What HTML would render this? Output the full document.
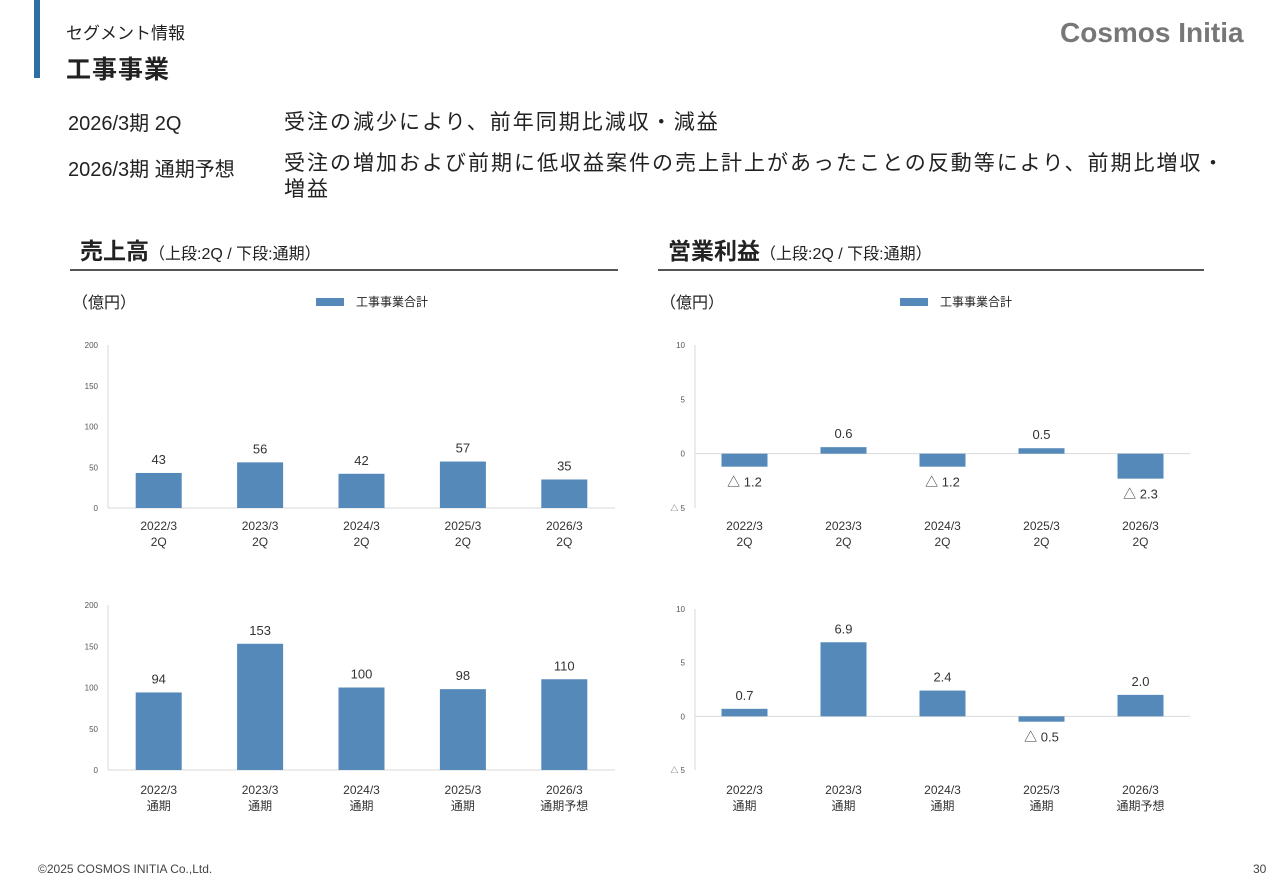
<!DOCTYPE html>
<html><head><meta charset="utf-8">
<style>
body{margin:0;width:1280px;height:886px;background:#fff;font-family:"Liberation Sans","Noto Sans CJK JP",sans-serif;color:#222;position:relative;overflow:hidden}
.abs{position:absolute;white-space:nowrap}
</style></head><body>
<div class="abs" style="left:34px;top:0;width:6px;height:78px;background:#2f6ea5"></div>
<div class="abs" style="left:66px;top:19px;font-size:17px">セグメント情報</div>
<div class="abs" style="left:66px;top:50px;font-size:25px;font-weight:bold;letter-spacing:1px">工事事業</div>
<div class="abs" style="left:1060px;top:17px;font-size:28px;font-weight:bold;color:#777">Cosmos Initia</div>
<div class="abs" style="left:68px;top:107px;font-size:20px">2026/3期 2Q</div>
<div class="abs" style="left:284px;top:106px;font-size:21px;letter-spacing:2px">受注の減少により、前年同期比減収・減益</div>
<div class="abs" style="left:68px;top:153px;font-size:20px">2026/3期 通期予想</div>
<div class="abs" style="left:284px;top:151px;font-size:21px;letter-spacing:2px;line-height:26px;white-space:normal;width:950px">受注の増加および前期に低収益案件の売上計上があったことの反動等により、前期比増収・増益</div>
<div class="abs" style="left:80px;top:232px;font-size:23px;font-weight:bold">売上高<span style="font-size:16px;font-weight:normal">（上段:2Q / 下段:通期）</span></div>
<div class="abs" style="left:70px;top:269px;width:548px;height:2px;background:#555"></div>
<div class="abs" style="left:668px;top:232px;font-size:23px;font-weight:bold">営業利益<span style="font-size:16px;font-weight:normal">（上段:2Q / 下段:通期）</span></div>
<div class="abs" style="left:658px;top:269px;width:546px;height:2px;background:#555"></div>
<div class="abs" style="left:72px;top:289px;font-size:16px">（億円）</div>
<div class="abs" style="left:660px;top:289px;font-size:16px">（億円）</div>
<div class="abs" style="left:316px;top:293px;font-size:12px"><span style="display:inline-block;width:28px;height:8px;background:#5589b9;margin-right:12px"></span>工事事業合計</div>
<div class="abs" style="left:900px;top:293px;font-size:12px"><span style="display:inline-block;width:28px;height:8px;background:#5589b9;margin-right:12px"></span>工事事業合計</div>
<div class="abs" style="left:38px;top:862px;font-size:12px;color:#444">©2025 COSMOS INITIA Co.,Ltd.</div>
<div class="abs" style="left:1253px;top:862px;font-size:12px;color:#444">30</div>
<svg id="charts" width="1280" height="886" style="position:absolute;left:0;top:0"></svg>
<script>
const cats2Q = ["2022/3|2Q","2023/3|2Q","2024/3|2Q","2025/3|2Q","2026/3|2Q"];
const catsFY = ["2022/3|通期","2023/3|通期","2024/3|通期","2025/3|通期","2026/3|通期予想"];
const sales2Q = [43,56,42,57,35];
const salesFY = [94,153,100,98,110];
const profit2Q = [-1.2,0.6,-1.2,0.5,-2.3];
const profitFY = [0.7,6.9,2.4,-0.5,2.0];
const salesTicks = [0,50,100,150,200];
const profitTicks = [-5,0,5,10];
const NS="http://www.w3.org/2000/svg";
const svg=document.getElementById('charts');
function mk(t,a,txt){const e=document.createElementNS(NS,t);for(const k in a)e.setAttribute(k,a[k]);if(txt!==undefined)e.textContent=txt;svg.appendChild(e);return e;}
function fmt(v,dec){const s=Math.abs(v).toFixed(dec);return v<0?"△ "+s:s;}
function chart(name,x0,x1,yTop,yBot,min,max,ticks,cats,vals,dec,catY){
  const y=v=>yBot-(v-min)/(max-min)*(yBot-yTop);
  const bw=(x1-x0)/cats.length;
  let e=mk('line',{x1:x0,y1:yTop,x2:x0,y2:yBot,stroke:'#d9d9d9'});
  
  e=mk('line',{x1:x0,y1:y(0),x2:x1,y2:y(0),stroke:'#d9d9d9'});
  
  ticks.forEach(t=>{
    const l=mk('text',{x:x0-10,y:y(t)+3,'font-size':8,fill:'#555','text-anchor':'end'},t<0?"△ "+Math.abs(t):t);
    
  });
  vals.forEach((v,i)=>{
    const cx=x0+bw*(i+0.5);
    const r=mk('rect',{x:cx-23,y:Math.min(y(v),y(0)),width:46,height:Math.abs(y(v)-y(0)),fill:'#5589b9'});
    
    const ly=v>=0?y(v)-9:y(v)+20;
    const t=mk('text',{x:cx,y:ly,'font-size':13,fill:'#333','text-anchor':'middle'},fmt(v,dec));
    
    const p=cats[i].split('|');
    const c1=mk('text',{x:cx,y:catY,'font-size':12,fill:'#333','text-anchor':'middle'},p[0]);
    
    const c2=mk('text',{x:cx,y:catY+16,'font-size':12,fill:'#333','text-anchor':'middle'},p[1]);
    
  });
}
chart('sales-2q',108,615,345,508,0,200,salesTicks,cats2Q,sales2Q,0,530);
chart('sales-fy',108,615,605,770,0,200,salesTicks,catsFY,salesFY,0,794);
chart('profit-2q',695,1190,345,508,-5,10,profitTicks,cats2Q,profit2Q,1,530);
chart('profit-fy',695,1190,609,770,-5,10,profitTicks,catsFY,profitFY,1,794);
</script>
</body></html>
